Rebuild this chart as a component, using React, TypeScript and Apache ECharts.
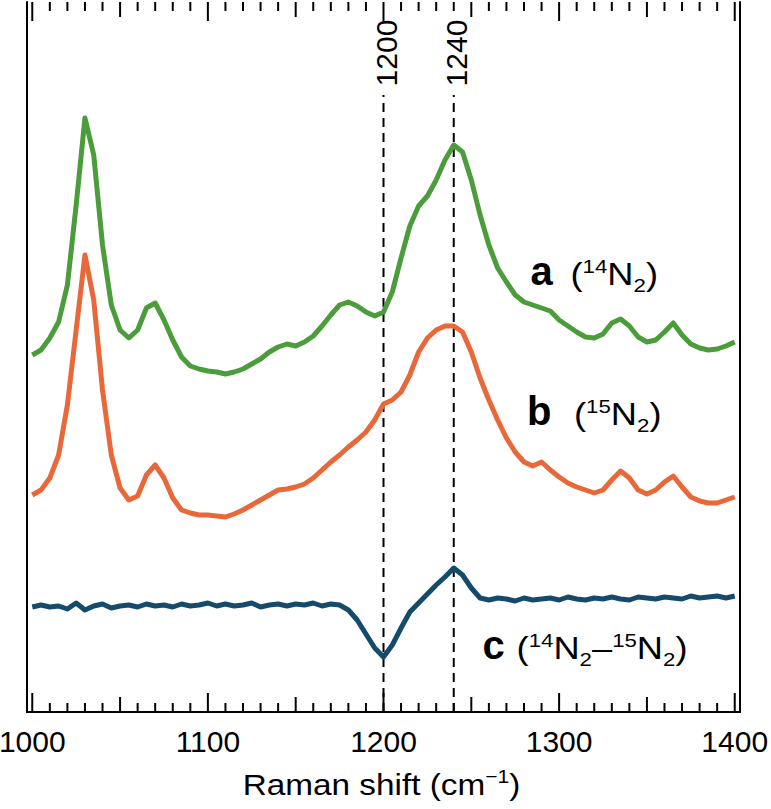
import React, { useEffect, useRef } from "react";
import * as echarts from "echarts";

// Raman shift (cm^-1)
const shifts = [
  1000, 1005, 1010, 1015, 1020, 1025, 1030, 1035, 1040, 1045,
  1050, 1055, 1060, 1065, 1070, 1075, 1080, 1085, 1090, 1095,
  1100, 1105, 1110, 1115, 1120, 1125, 1130, 1135, 1140, 1145,
  1150, 1155, 1160, 1165, 1170, 1175, 1180, 1185, 1190, 1195,
  1200, 1205, 1210, 1215, 1220, 1225, 1230, 1235, 1240, 1245,
  1250, 1255, 1260, 1265, 1270, 1275, 1280, 1285, 1290, 1295,
  1300, 1305, 1310, 1315, 1320, 1325, 1330, 1335, 1340, 1345,
  1350, 1355, 1360, 1365, 1370, 1375, 1380, 1385, 1390, 1395,
  1400,
];

// a (14N2), offset intensity (a.u.)
const seriesA = [
  357, 362, 374, 390, 427, 507, 594, 557, 467, 407,
  382, 374, 382, 404, 409, 392, 372, 355, 346, 343,
  341, 340, 338, 340, 343, 348, 353, 360, 365, 368,
  366, 370, 376, 386, 397, 407, 410, 406, 400, 396,
  400, 420, 454, 486, 506, 516, 532, 552, 567, 560,
  532, 497, 467, 444, 430, 417, 410, 407, 404, 401,
  392, 386, 380, 375, 374, 378, 389, 393, 386, 375,
  370, 372, 380, 389, 377, 368, 364, 362, 363, 366,
  370,
];

// b (15N2)
const seriesB = [
  217, 222, 234, 257, 307, 382, 457, 412, 322, 257,
  224, 212, 216, 237, 247, 234, 214, 202, 199, 197,
  197, 196, 195, 198, 202, 207, 212, 217, 222, 223,
  225, 228, 234, 242, 250, 257, 265, 272, 280, 292,
  308, 312, 320, 337, 360, 374, 382, 386, 386, 380,
  360, 334, 312, 292, 274, 260, 250, 246, 250, 242,
  235, 229, 225, 222, 219, 222, 232, 241, 234, 222,
  218, 222, 230, 236, 225, 215, 211, 209, 209, 212,
  215,
];

// c (14N2 - 15N2)
const seriesC = [
  105, 107, 105, 106, 103, 109, 102, 106, 108, 104,
  106, 107, 105, 108, 106, 107, 105, 108, 106, 107,
  109, 106, 108, 106, 107, 109, 105, 107, 108, 106,
  108, 107, 109, 106, 108, 107, 102, 92, 78, 64,
  55, 67, 84, 100, 109, 118, 127, 135, 144, 137,
  124, 114, 112, 114, 113, 111, 114, 112, 113, 114,
  112, 115, 113, 112, 114, 113, 115, 113, 112, 115,
  114, 113, 115, 114, 113, 116, 114, 115, 116, 114,
  116,
];

const markerShifts = [1200, 1240];
const markerTop = 617;

const tickLabels = [1000, 1100, 1200, 1300, 1400];
const tickValues = [
  1000, 1010, 1020, 1030, 1040, 1050, 1060, 1070, 1080, 1090,
  1100, 1110, 1120, 1130, 1140, 1150, 1160, 1170, 1180, 1190,
  1200, 1210, 1220, 1230, 1240, 1250, 1260, 1270, 1280, 1290,
  1300, 1310, 1320, 1330, 1340, 1350, 1360, 1370, 1380, 1390,
  1400,
];

const FONT = "'Liberation Sans', Arial, Helvetica, sans-serif";
const GREEN = "#4a9d3a";
const ORANGE = "#e8683a";
const BLUE = "#144a6b";
const X_MIN = 997;
const X_MAX = 1403;
const Y_MIN = 0;
const Y_MAX = 710;

export default function App() {
  const ref = useRef<HTMLDivElement>(null);

  useEffect(() => {
    document.body.style.margin = "0";
    if (!ref.current) return;
    const chart = echarts.init(ref.current, null, { renderer: "svg" });

    const frameAxis = (position: string, labels: boolean): any => ({
      type: "value",
      min: X_MIN,
      max: X_MAX,
      position,
      axisLine: { show: true, lineStyle: { color: "#000", width: 2 } },
      axisTick: { show: false },
      axisLabel: labels
        ? {
            show: true,
            customValues: tickLabels,
            formatter: (v: number) => String(v),
            fontSize: 30,
            fontFamily: FONT,
            color: "#000",
            margin: 14,
          }
        : { show: false },
      splitLine: { show: false },
    });

    const frameY = (position: string): any => ({
      type: "value",
      min: Y_MIN,
      max: Y_MAX,
      position,
      axisLine: { show: true, lineStyle: { color: "#000", width: 2 } },
      axisTick: { show: false },
      axisLabel: { show: false },
      splitLine: { show: false },
    });

    const mk = (x: number) => ({
      type: "line",
      xAxisIndex: 0,
      yAxisIndex: 0,
      data: [
        [x, Y_MIN],
        [x, markerTop],
      ],
      showSymbol: false,
      silent: true,
      lineStyle: { color: "#000", width: 2, type: [9, 6] },
      z: 1,
    });

    const line = (vals: number[], color: string) => ({
      type: "line",
      xAxisIndex: 0,
      yAxisIndex: 0,
      data: shifts.map((x, i) => [x, vals[i]]),
      showSymbol: false,
      silent: true,
      lineStyle: { color, width: 5, join: "round" },
      z: 3,
    });

    const ticks = {
      type: "custom",
      xAxisIndex: 0,
      yAxisIndex: 0,
      silent: true,
      clip: false,
      z: 5,
      data: tickValues.map((v) => [v, Y_MIN]),
      renderItem: (_p: any, api: any) => {
        const v = api.value(0);
        const len = v % 100 === 0 ? 19 : v % 50 === 0 ? 15 : 9;
        const b = api.coord([v, Y_MIN]);
        const t = api.coord([v, Y_MAX]);
        const st = { stroke: "#000", lineWidth: 2 };
        return {
          type: "group",
          children: [
            { type: "line", shape: { x1: b[0], y1: b[1], x2: b[0], y2: b[1] - len }, style: st },
            { type: "line", shape: { x1: t[0], y1: t[1], x2: t[0], y2: t[1] + len }, style: st },
          ],
        };
      },
    };

    chart.setOption({
      animation: false,
      grid: { left: 27, right: 31, top: 2, bottom: 97, containLabel: false, outerBoundsMode: "none" },
      xAxis: [frameAxis("bottom", true), frameAxis("top", false)],
      yAxis: [frameY("left"), frameY("right")],
      series: [
        ...markerShifts.map(mk),
        line(seriesA, GREEN),
        line(seriesB, ORANGE),
        line(seriesC, BLUE),
        ticks,
      ],
    });

    const px = (x: number, y: number) =>
      chart.convertToPixel({ xAxisIndex: 0, yAxisIndex: 0 }, [x, y]) as number[];

    const base = { fontFamily: FONT, color: "#000", lineHeight: 36, verticalAlign: "middle" };
    const rich = {
      b: { ...base, fontSize: 40, fontWeight: "bold", padding: [0, 0, 6, 0] },
      n: { ...base, fontSize: 31 },
      s: { ...base, fontSize: 19, padding: [0, 0, 16, 0] },
      d: { ...base, fontSize: 19, padding: [22, 0, 0, 0] },
    };

    const graphic: any[] = [];
    markerShifts.forEach((m) => {
      const p = px(m, markerTop);
      graphic.push({
        type: "text",
        x: p[0] + 3,
        y: 53,
        rotation: Math.PI / 2,
        style: {
          text: String(m),
          font: `30px ${FONT}`,
          fill: "#000",
          align: "center",
          verticalAlign: "middle",
        },
      });
    });

    const labels = [
      { letter: "a", at: px(1283.7, 437.7), pAt: px(1306.5, 437.7), text: "{n|(}{s|14}{n|N}{d|2}{n|)}" },
      { letter: "b", at: px(1281.7, 297.7), pAt: px(1308.5, 297.7), text: "{n|(}{s|15}{n|N}{d|2}{n|)}" },
      { letter: "c", at: px(1256.4, 63.7), pAt: px(1275.8, 63.7), text: "{n|(}{s|14}{n|N}{d|2}{n|–}{s|15}{n|N}{d|2}{n|)}" },
    ];
    labels.forEach((l) => {
      graphic.push(
        {
          type: "text",
          x: l.at[0],
          y: l.at[1],
          style: { text: `{b|${l.letter}}`, rich, align: "left", verticalAlign: "middle" },
        },
        {
          type: "text",
          x: l.pAt[0],
          y: l.pAt[1],
          scaleX: 1.17,
          style: { text: l.text, rich, align: "left", verticalAlign: "middle" },
        }
      );
    });

    const pt = px(1200, Y_MIN);
    graphic.push({
      type: "text",
      x: pt[0] - 2,
      y: pt[1] + 73,
      scaleX: 1.11,
      style: {
        text: "{n|Raman shift (cm}{s|−1}{n|)}",
        rich: {
          n: { ...base, fontSize: 30 },
          s: { ...base, fontSize: 19, padding: [0, 0, 18, 0] },
        },
        align: "center",
        verticalAlign: "middle",
      },
    });

    chart.setOption({ graphic });

    return () => chart.dispose();
  }, []);

  return <div ref={ref} style={{ width: 771, height: 809 }} />;
}
